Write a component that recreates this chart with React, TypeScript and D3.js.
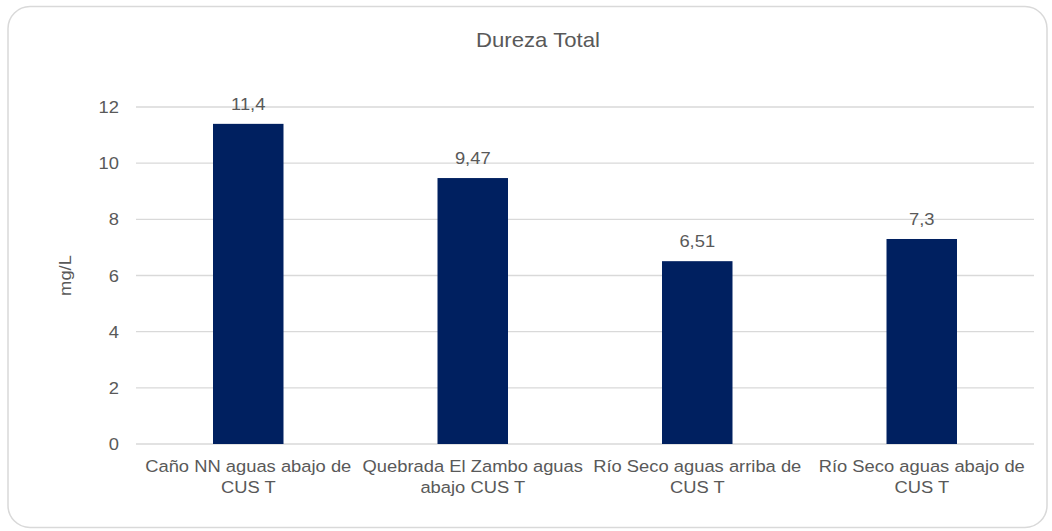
import React from "react";
import * as d3 from "d3";

const categories: string[][] = [
  ["Caño NN aguas abajo de", "CUS T"],
  ["Quebrada El Zambo aguas", "abajo CUS T"],
  ["Río Seco aguas arriba de", "CUS T"],
  ["Río Seco aguas abajo de", "CUS T"],
];
const values: number[] = [11.4, 9.47, 6.51, 7.3];
const valueLabels: string[] = ["11,4", "9,47", "6,51", "7,3"];
const yTicks: number[] = [0, 2, 4, 6, 8, 10, 12];
const title = "Dureza Total";
const yTitle = "mg/L";

const W = 1052;
const H = 531;
const FONT = "'Liberation Sans', Arial, sans-serif";
const TEXT = "#595959";
const SX = 1.08;

function T({
  x,
  y,
  size,
  anchor = "middle",
  rotate = 0,
  children,
}: {
  x: number;
  y: number;
  size: number;
  anchor?: string;
  rotate?: number;
  children: React.ReactNode;
}) {
  const tr = rotate
    ? `translate(${x},${y}) rotate(${rotate}) scale(${SX},1)`
    : `translate(${x},${y}) scale(${SX},1)`;
  return (
    <text
      transform={tr}
      textAnchor={anchor as any}
      fontSize={size}
      fill={TEXT}
    >
      {children}
    </text>
  );
}

export default function App() {
  const left = 136;
  const right = 1034;
  const top = 107;
  const bottom = 444;
  const x = d3
    .scaleBand<number>()
    .domain(values.map((_, i) => i))
    .range([left, right])
    .padding(0);
  const y = d3.scaleLinear().domain([0, 12]).range([bottom, top]);
  const bw = x.bandwidth() * 0.314;

  return (
    <svg
      width={W}
      height={H}
      style={{ position: "absolute", left: 0, top: 0, fontFamily: FONT }}
    >
      <rect x={0} y={0} width={W} height={H} fill="#fff" />
      <rect
        x={8}
        y={6.5}
        width={1039}
        height={521}
        rx={22}
        ry={22}
        fill="#fff"
        stroke="#d9d9d9"
        strokeWidth={1.5}
      />
      <T x={538} y={47} size={20.5}>
        {title}
      </T>
      {yTicks.map((t) => (
        <g key={t}>
          <line
            x1={left}
            x2={right}
            y1={y(t)}
            y2={y(t)}
            stroke="#d9d9d9"
            strokeWidth={1.3}
          />
          <T x={left - 17} y={y(t) + 6} size={17} anchor="end">
            {t}
          </T>
        </g>
      ))}
      <T x={71} y={(top + bottom) / 2} size={17} rotate={-90}>
        {yTitle}
      </T>
      {values.map((v, i) => {
        const cx = (x(i) as number) + x.bandwidth() / 2;
        return (
          <g key={i}>
            <rect
              x={cx - bw / 2}
              y={y(v)}
              width={bw}
              height={y(0) - y(v)}
              fill="#002060"
            />
            <T x={cx} y={y(v) - 14} size={17}>
              {valueLabels[i]}
            </T>
            {categories[i].map((line, j) => (
              <T key={j} x={cx} y={472 + j * 20.5} size={17}>
                {line}
              </T>
            ))}
          </g>
        );
      })}
    </svg>
  );
}
